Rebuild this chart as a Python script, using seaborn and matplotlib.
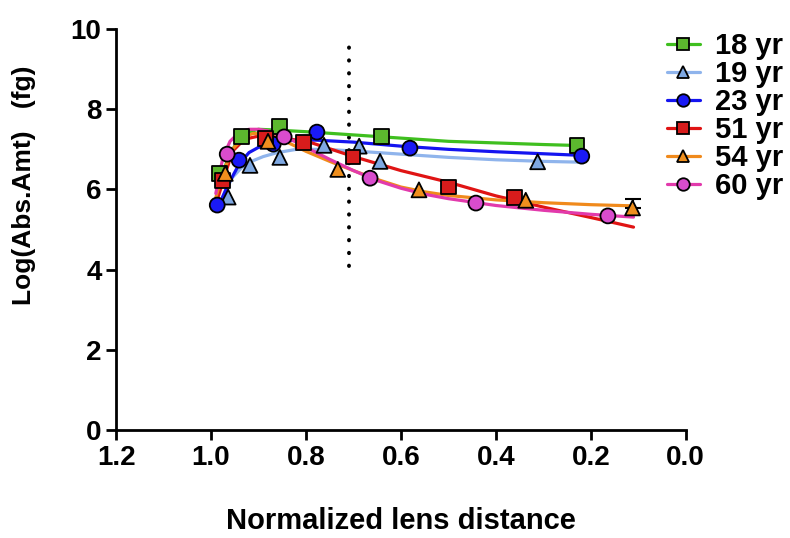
import matplotlib
matplotlib.use("Agg")
import matplotlib.pyplot as plt
import numpy as np
import pandas as pd
import seaborn as sns
from matplotlib.lines import Line2D

# group labels and styling
ages = ["18 yr", "19 yr", "23 yr", "51 yr", "54 yr", "60 yr"]
line_colors = ["#3fbf1f", "#8fb4ec", "#1414f0", "#e01414", "#f08a1c", "#e23aac"]
face_colors = ["#5cb82e", "#7ea8e2", "#1a1af5", "#d81c1c", "#ef8f1e", "#d94ccd"]
markers = ["s", "^", "o", "s", "^", "o"]

# measured points (normalized lens distance, log abs amount)
pts_18_x = [0.983, 0.935, 0.855, 0.64, 0.229]
pts_18_y = [6.4, 7.33, 7.58, 7.31, 7.1]
pts_19_x = [0.964, 0.918, 0.855, 0.762, 0.688, 0.644, 0.312]
pts_19_y = [5.81, 6.6, 6.8, 7.1, 7.08, 6.7, 6.69]
pts_23_x = [0.987, 0.941, 0.869, 0.777, 0.581, 0.219]
pts_23_y = [5.61, 6.73, 7.13, 7.43, 7.03, 6.83]
pts_51_x = [0.975, 0.886, 0.806, 0.701, 0.499, 0.36]
pts_51_y = [6.23, 7.28, 7.16, 6.81, 6.06, 5.79]
pts_54_x = [0.97, 0.88, 0.733, 0.562, 0.337, 0.112]
pts_54_y = [6.4, 7.2, 6.5, 5.99, 5.73, 5.54]
pts_60_x = [0.966, 0.846, 0.665, 0.442, 0.164]
pts_60_y = [6.88, 7.31, 6.28, 5.66, 5.34]

# error bar on last 54 yr point (upper only)
err_54_last = 0.22

# fitted curves
fit_18_x = [0.985, 0.966, 0.945, 0.925, 0.90, 0.86, 0.8, 0.7, 0.6, 0.5, 0.4, 0.3, 0.24]
fit_18_y = [5.99, 6.73, 7.2, 7.42, 7.5, 7.48, 7.44, 7.36, 7.28, 7.2, 7.16, 7.12, 7.1]
fit_19_x = [0.985, 0.97, 0.955, 0.935, 0.915, 0.89, 0.86, 0.82, 0.76, 0.7, 0.6, 0.5, 0.4, 0.3, 0.22]
fit_19_y = [5.55, 5.95, 6.3, 6.55, 6.7, 6.82, 6.92, 7.0, 7.0, 6.96, 6.88, 6.8, 6.74, 6.7, 6.68]
fit_23_x = [0.985, 0.965, 0.94, 0.92, 0.90, 0.87, 0.83, 0.78, 0.7, 0.6, 0.5, 0.4, 0.3, 0.22]
fit_23_y = [5.56, 6.1, 6.65, 6.92, 7.05, 7.15, 7.22, 7.23, 7.18, 7.08, 7.0, 6.94, 6.89, 6.85]
fit_51_x = [0.988, 0.975, 0.955, 0.93, 0.9, 0.88, 0.84, 0.79, 0.7, 0.6, 0.5, 0.4, 0.3, 0.2, 0.11]
fit_51_y = [5.7, 6.2, 6.95, 7.25, 7.33, 7.33, 7.27, 7.17, 6.82, 6.47, 6.18, 5.84, 5.56, 5.3, 5.06]
fit_54_x = [0.99, 0.975, 0.955, 0.93, 0.91, 0.88, 0.84, 0.8, 0.75, 0.7, 0.65, 0.6, 0.55, 0.5, 0.4, 0.3, 0.2, 0.11]
fit_54_y = [5.8, 6.4, 7.0, 7.32, 7.4, 7.35, 7.18, 6.95, 6.7, 6.47, 6.25, 6.06, 5.94, 5.85, 5.74, 5.67, 5.62, 5.59]
fit_60_x = [0.99, 0.975, 0.96, 0.94, 0.92, 0.9, 0.88, 0.84, 0.8, 0.75, 0.7, 0.65, 0.6, 0.55, 0.5, 0.4, 0.3, 0.2, 0.11]
fit_60_y = [5.9, 6.8, 7.2, 7.43, 7.5, 7.5, 7.46, 7.3, 7.05, 6.75, 6.47, 6.22, 6.03, 5.88, 5.77, 5.6, 5.48, 5.38, 5.31]

# dotted reference line
cutoff_x = 0.71
cutoff_ymin, cutoff_ymax = 4.1, 9.75

pts = [(pts_18_x, pts_18_y), (pts_19_x, pts_19_y), (pts_23_x, pts_23_y),
       (pts_51_x, pts_51_y), (pts_54_x, pts_54_y), (pts_60_x, pts_60_y)]
fits = [(fit_18_x, fit_18_y), (fit_19_x, fit_19_y), (fit_23_x, fit_23_y),
        (fit_51_x, fit_51_y), (fit_54_x, fit_54_y), (fit_60_x, fit_60_y)]

pts_df = pd.concat([pd.DataFrame({"dist": x, "amt": y, "age": a}) for (x, y), a in zip(pts, ages)])
fit_df = pd.concat([pd.DataFrame({"dist": x, "amt": y, "age": a}) for (x, y), a in zip(fits, ages)])

sns.set_style("ticks")
plt.rcParams["font.family"] = ["Liberation Sans", "DejaVu Sans"]
plt.rcParams["font.weight"] = "bold"
plt.rcParams["text.color"] = "black"
plt.rcParams["axes.labelcolor"] = "black"
plt.rcParams["xtick.color"] = "black"
plt.rcParams["ytick.color"] = "black"
plt.rcParams["axes.edgecolor"] = "black"

fig = plt.figure(figsize=(7.9, 5.38), dpi=100)
ax = fig.add_axes([0.147, 0.2007, 0.721, 0.7453])

sns.lineplot(data=fit_df, x="dist", y="amt", hue="age", hue_order=ages,
             palette=line_colors, sort=False, estimator=None, legend=False,
             linewidth=2.3, ax=ax, zorder=2)
sns.scatterplot(data=pts_df, x="dist", y="amt", hue="age", hue_order=ages,
                style="age", style_order=ages, markers=dict(zip(ages, markers)),
                palette=face_colors, edgecolor="black", linewidth=1.3, s=115,
                legend=False, ax=ax, zorder=3)

ax.errorbar([pts_54_x[-1]], [pts_54_y[-1]], yerr=[[0], [err_54_last]],
            fmt="none", ecolor="black", elinewidth=1.5, capsize=6, capthick=1.5, zorder=2.5)

ax.vlines(cutoff_x, cutoff_ymin, cutoff_ymax, colors="black", linewidth=2.8,
          linestyles=(0, (0.1, 3.2)), capstyle="round", zorder=1)

ax.set_xlim(1.2, 0.0)
ax.set_ylim(0, 10)
ax.set_xticks([1.2, 1.0, 0.8, 0.6, 0.4, 0.2, 0.0])
ax.set_xticklabels(["1.2", "1.0", "0.8", "0.6", "0.4", "0.2", "0.0"])
ax.set_yticks([0, 2, 4, 6, 8, 10])

for s in ["top", "right"]:
    ax.spines[s].set_visible(False)
for s in ["left", "bottom"]:
    ax.spines[s].set_linewidth(2)
ax.tick_params(axis="both", width=2, length=7, labelsize=20, direction="out", colors="black")
for lab in ax.get_xticklabels() + ax.get_yticklabels():
    lab.set_fontweight("bold")

ax.set_xlabel("Normalized lens distance", fontsize=21, fontweight="bold", labelpad=26)
ax.set_ylabel("Log(Abs.Amt)   (fg)", fontsize=19, fontweight="bold")
ax.yaxis.set_label_coords(-0.14, 0.61)

handles = [Line2D([], [], color=lc, marker=m, markerfacecolor=fc, markeredgecolor="black",
                  markeredgewidth=1.3, markersize=9, linewidth=2.3)
           for lc, fc, m in zip(line_colors, face_colors, markers)]
fig.legend(handles, ages, loc="upper left", bbox_to_anchor=(0.829, 0.962),
           frameon=False, prop={"size": 21, "weight": "bold"},
           handlelength=1.15, handletextpad=0.5, labelspacing=0.0, borderaxespad=0)

fig.savefig("out.png", dpi=100)
